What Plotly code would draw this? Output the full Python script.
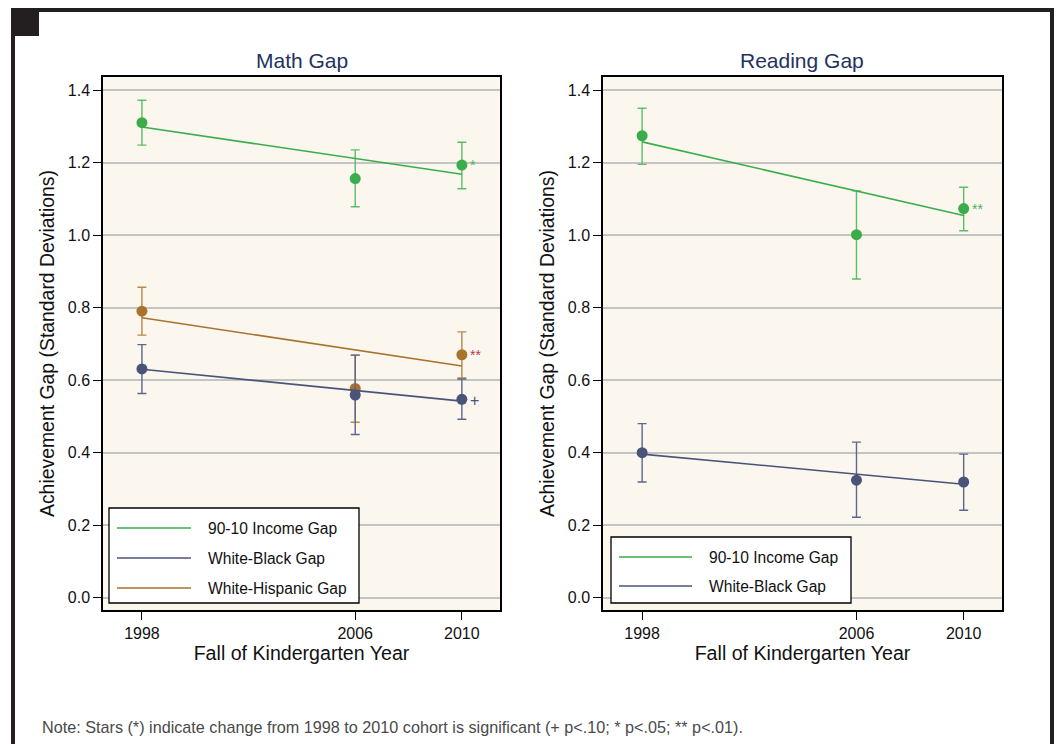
import plotly.graph_objects as go

# ---------------- data ----------------
years = [1998, 2006, 2010]
fit_years = [1998, 2010]
year_ticks = [1998, 2006, 2010]
y_ticks = [0.0, 0.2, 0.4, 0.6, 0.8, 1.0, 1.2, 1.4]

math_income = [1.310, 1.156, 1.193]
math_income_lo = [1.248, 1.078, 1.128]
math_income_hi = [1.372, 1.235, 1.256]
math_income_fit = [1.298, 1.168]

math_black = [0.631, 0.559, 0.547]
math_black_lo = [0.563, 0.450, 0.492]
math_black_hi = [0.698, 0.669, 0.603]
math_black_fit = [0.630, 0.542]

math_hisp = [0.790, 0.577, 0.670]
math_hisp_lo = [0.724, 0.484, 0.606]
math_hisp_hi = [0.856, 0.669, 0.733]
math_hisp_fit = [0.772, 0.639]

read_income = [1.274, 1.001, 1.073]
read_income_lo = [1.195, 0.879, 1.012]
read_income_hi = [1.350, 1.122, 1.132]
read_income_fit = [1.257, 1.054]

read_black = [0.400, 0.324, 0.319]
read_black_lo = [0.319, 0.222, 0.241]
read_black_hi = [0.480, 0.429, 0.396]
read_black_fit = [0.396, 0.313]

series_names = ["90-10 Income Gap", "White-Black Gap", "White-Hispanic Gap"]
math_sig = ["*", "+", "**"]
read_sig = ["**", "", ""]

# ---------------- styles ----------------
W, H = 1057, 744
GREEN, GREEN_E = "#3aad4a", "#5cbd68"
NAVY, NAVY_E = "#4a5479", "#5d678a"
BROWN, BROWN_E = "#a9722d", "#b8884c"
SIG_COLORS = {"income": "#4ab458", "black": NAVY, "hisp": "#b03a50"}
FONT = "Liberation Sans, Arial, Helvetica, sans-serif"
TITLE_COL = "#22335e"
BG = "#fbf7ef"


def px(x):
    return x / W


def py(y):
    return 1 - y / H


fig = go.Figure()


def add_series(vals, lo, hi, fit, color, ecolor, xa, ya, name):
    fig.add_trace(go.Scatter(
        x=years, y=vals, mode="markers", name=name, showlegend=False,
        xaxis=xa, yaxis=ya,
        marker=dict(size=11, color=color, line=dict(width=0)),
        error_y=dict(type="data", symmetric=False,
                     array=[h - v for h, v in zip(hi, vals)],
                     arrayminus=[v - l for v, l in zip(vals, lo)],
                     color=ecolor, thickness=1.4, width=4.5),
    ))
    fig.add_trace(go.Scatter(
        x=fit_years, y=fit, mode="lines", name=name, showlegend=False,
        xaxis=xa, yaxis=ya, line=dict(color=color, width=1.6),
    ))


add_series(math_income, math_income_lo, math_income_hi, math_income_fit, GREEN, GREEN_E, "x", "y", series_names[0])
add_series(math_hisp, math_hisp_lo, math_hisp_hi, math_hisp_fit, BROWN, BROWN_E, "x", "y", series_names[2])
add_series(math_black, math_black_lo, math_black_hi, math_black_fit, NAVY, NAVY_E, "x", "y", series_names[1])
add_series(read_income, read_income_lo, read_income_hi, read_income_fit, GREEN, GREEN_E, "x2", "y2", series_names[0])
add_series(read_black, read_black_lo, read_black_hi, read_black_fit, NAVY, NAVY_E, "x2", "y2", series_names[1])

annotations = []
# significance marks next to 2010 points
for vals, sig, col, xr, yr in [
    (math_income, math_sig[0], SIG_COLORS["income"], "x", "y"),
    (math_black, math_sig[1], SIG_COLORS["black"], "x", "y"),
    (math_hisp, math_sig[2], SIG_COLORS["hisp"], "x", "y"),
    (read_income, read_sig[0], SIG_COLORS["income"], "x2", "y2"),
    (read_black, read_sig[1], SIG_COLORS["black"], "x2", "y2"),
]:
    if sig:
        annotations.append(dict(
            x=years[-1], y=vals[-1], xref=xr, yref=yr, text=sig, showarrow=False,
            xanchor="left", yanchor="middle", xshift=6, yshift=-1 if sig == "+" else 0,
            font=dict(family=FONT, size=16 if sig == "+" else 14, color=col)))

# panel titles
annotations.append(dict(x=px(302), y=py(60), xref="paper", yref="paper", text="Math Gap",
                        showarrow=False, xanchor="center", yanchor="middle",
                        font=dict(family=FONT, size=21, color=TITLE_COL)))
annotations.append(dict(x=px(802), y=py(60), xref="paper", yref="paper", text="Reading Gap",
                        showarrow=False, xanchor="center", yanchor="middle",
                        font=dict(family=FONT, size=21, color=TITLE_COL)))
# note
annotations.append(dict(x=px(40), y=py(727), xref="paper", yref="paper",
                        text="Note: Stars (*) indicate change from 1998 to 2010 cohort is significant (+ p<.10; * p<.05; ** p<.01).",
                        showarrow=False, xanchor="left", yanchor="middle",
                        font=dict(family=FONT, size=16.2, color="#4a4a4a")))

shapes = []
# outer frame and black corner square
shapes.append(dict(type="rect", xref="paper", yref="paper", x0=px(13), x1=px(1052), y0=py(770), y1=py(10),
                   line=dict(color="#231f20", width=4), fillcolor="rgba(0,0,0,0)", layer="above"))
shapes.append(dict(type="rect", xref="paper", yref="paper", x0=px(15), x1=px(39), y0=py(36), y1=py(12),
                   line=dict(width=0), fillcolor="#231f20", layer="above"))


def legend_box(x0, x1, y0, y1, rows, line_x0, line_x1, text_x):
    shapes.append(dict(type="rect", xref="paper", yref="paper", x0=px(x0), x1=px(x1), y0=py(y1), y1=py(y0),
                       line=dict(color="black", width=1.3), fillcolor="white", layer="above"))
    for (ry, name, col) in rows:
        shapes.append(dict(type="line", xref="paper", yref="paper", x0=px(line_x0), x1=px(line_x1),
                           y0=py(ry), y1=py(ry), line=dict(color=col, width=1.5), layer="above"))
        annotations.append(dict(x=px(text_x), y=py(ry), xref="paper", yref="paper", text=name,
                                showarrow=False, xanchor="left", yanchor="middle",
                                font=dict(family=FONT, size=15.6, color="#111111")))


legend_box(109, 359, 508, 603,
           [(528, series_names[0], GREEN), (558, series_names[1], NAVY), (588, series_names[2], BROWN)],
           117, 191, 206)
legend_box(611, 851, 537, 603,
           [(557, series_names[0], GREEN), (586, series_names[1], NAVY)],
           619, 692, 707)

xr = [1996.54, 2011.43]
yr = [-0.034, 1.436]

axis_common = dict(showline=True, linecolor="black", linewidth=1.5, mirror=True,
                   ticks="outside", ticklen=8, tickcolor="black", tickwidth=1.2,
                   tickfont=dict(family=FONT, size=16, color="#111111"), zeroline=False)

xaxis_cfg = dict(axis_common, range=xr, tickvals=year_ticks, ticktext=[str(t) for t in year_ticks],
                 showgrid=False,
                 title=dict(text="Fall of Kindergarten Year", font=dict(family=FONT, size=19.6, color="#111111"),
                            standoff=5))
yaxis_cfg = dict(axis_common, range=yr, tickvals=y_ticks, ticktext=[f"{t:.1f}" for t in y_ticks],
                 showgrid=True, gridcolor="#c4c4c4", gridwidth=1.5,
                 title=dict(text="Achievement Gap (Standard Deviations)",
                            font=dict(family=FONT, size=19.4, color="#111111"), standoff=8))

fig.update_layout(
    width=W, height=H,
    margin=dict(l=0, r=0, t=0, b=0),
    paper_bgcolor="white",
    plot_bgcolor=BG,
    showlegend=False,
    xaxis=dict(xaxis_cfg, domain=[px(103), px(500)], anchor="y"),
    yaxis=dict(yaxis_cfg, domain=[py(610), py(77)], anchor="x"),
    xaxis2=dict(xaxis_cfg, domain=[px(603), px(1002)], anchor="y2"),
    yaxis2=dict(yaxis_cfg, domain=[py(610), py(77)], anchor="x2"),
    annotations=annotations,
    shapes=shapes,
)

fig.write_html("out.html")
